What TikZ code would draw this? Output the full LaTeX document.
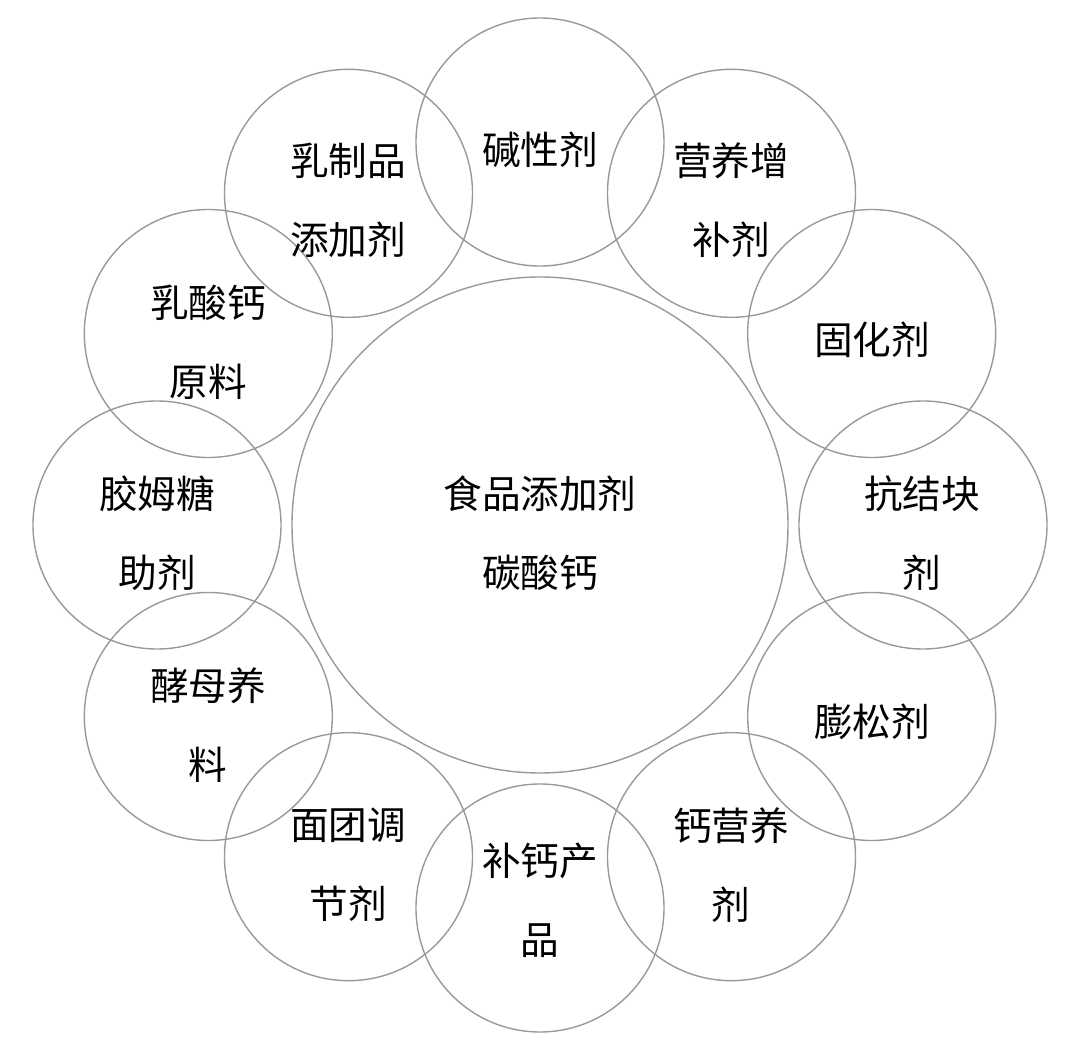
\documentclass[tikz,border=0pt]{standalone}
\usepackage{fontspec}
\newfontfamily\cjk{Noto Sans CJK SC}
\begin{document}
\begin{tikzpicture}[x=0.02cm,y=-0.02cm,
  ring/.style={draw=black!40,line width=0.8pt,circle,minimum size=248*0.02cm,inner sep=0pt},
  big/.style={draw=black!40,line width=0.8pt,circle,minimum size=496*0.02cm,inner sep=0pt},
  lab/.style={font=\cjk\fontsize{22}{45}\selectfont,align=center}]
\useasboundingbox (0,0) rectangle (1080,1051);
\node[big] (c) at (540,525) {};
\foreach \i in {0,...,11}{
  \node[ring] (r\i) at ({540+383*sin(30*\i)},{525-383*cos(30*\i)}) {};
}
\node[lab] (t0) at (540,150) {碱性剂};
\node[lab] (t1) at (731,200) {营养增\\补剂};
\node[lab] (t2) at (872,340) {固化剂};
\node[lab] (t3) at (922,533) {抗结块\\剂};
\node[lab] (t4) at (872,722) {膨松剂};
\node[lab] (t5) at (731,865) {钙营养\\剂};
\node[lab] (t6) at (540,900) {补钙产\\品};
\node[lab] (t7) at (348,865) {面团调\\节剂};
\node[lab] (t8) at (208,725) {酵母养\\料};
\node[lab] (t9) at (157,533) {胶姆糖\\助剂};
\node[lab] (t10) at (208,342) {乳酸钙\\原料};
\node[lab] (t11) at (348,200) {乳制品\\添加剂};
\node[lab] (tc) at (540,533) {食品添加剂\\碳酸钙};
\end{tikzpicture}
\end{document}
